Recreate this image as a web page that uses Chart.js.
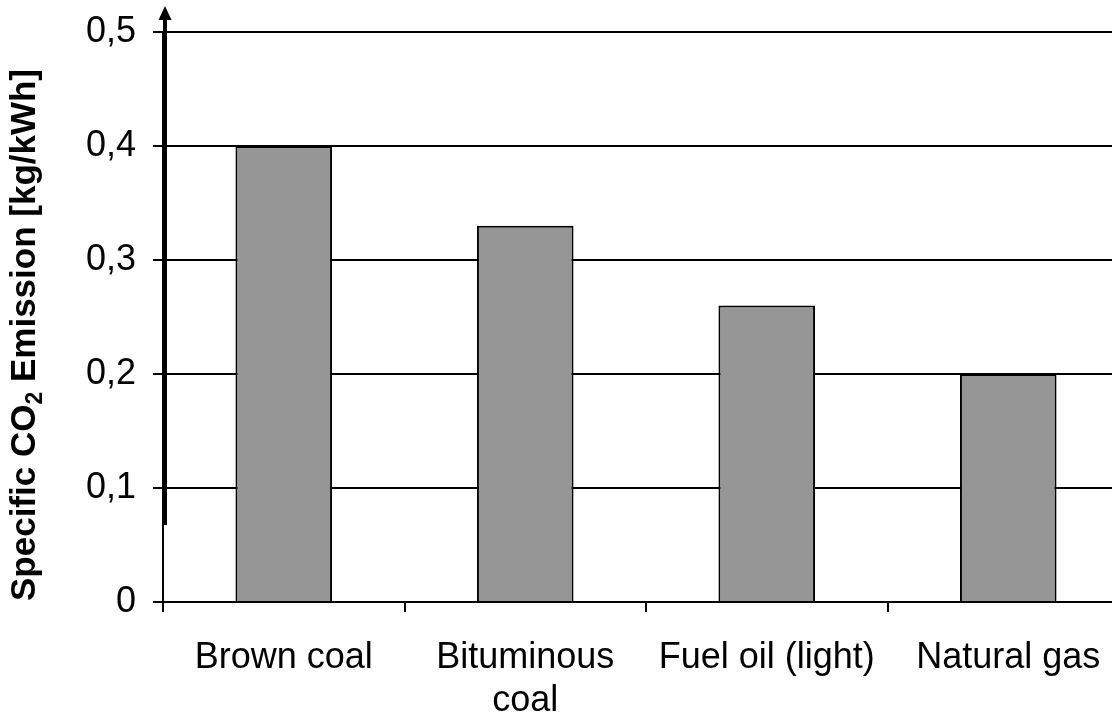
<!DOCTYPE html>
<html>
<head>
<meta charset="utf-8">
<title>Specific CO2 Emission</title>
<script src="https://cdn.jsdelivr.net/npm/chart.js@4/dist/chart.umd.min.js"></script>
<style>
  html, body { margin: 0; padding: 0; background: #ffffff; overflow: hidden; }
  #wrap { width: 1112px; height: 724px; overflow: hidden; position: relative; }
  canvas { display: block; }
</style>
</head>
<body>
<div id="wrap"><canvas id="chart" width="1130" height="724" style="width:1130px;height:724px"></canvas></div>
<script>
// Fuel types and their specific CO2 emissions in kg/kWh
const categories = ['Brown coal', ['Bituminous', 'coal'], 'Fuel oil (light)', 'Natural gas'];
const emissions = [0.40, 0.33, 0.26, 0.20];
const yTicks = [0, 0.1, 0.2, 0.3, 0.4, 0.5];

const FONT = '"Liberation Sans", Arial, Helvetica, sans-serif';

// Vertical axis title with a subscript 2, plus the arrow on the value axis
const decorations = {
  id: 'decorations',
  afterDraw(chart) {
    const ctx = chart.ctx;
    const area = chart.chartArea;

    // arrow along the value axis
    const ax = area.left + 2;
    ctx.save();
    ctx.strokeStyle = '#000';
    ctx.fillStyle = '#000';
    ctx.lineWidth = 4;
    ctx.beginPath();
    ctx.moveTo(ax, 525);
    ctx.lineTo(ax, 18);
    ctx.stroke();
    ctx.beginPath();
    ctx.moveTo(ax, 6);
    ctx.lineTo(ax - 6.5, 20);
    ctx.lineTo(ax + 6.5, 20);
    ctx.closePath();
    ctx.fill();
    ctx.restore();

    // rotated title
    const size = 35;
    const subSize = 23;
    const parts = [
      { t: 'Specific CO', f: 'bold ' + size + 'px ' + FONT, dy: 0 },
      { t: '2', f: 'bold ' + subSize + 'px ' + FONT, dy: 7 },
      { t: ' Emission [kg/kWh]', f: 'bold ' + size + 'px ' + FONT, dy: 0 }
    ];
    let total = 0;
    parts.forEach(p => { ctx.font = p.f; p.w = ctx.measureText(p.t).width; total += p.w; });
    ctx.save();
    ctx.translate(35, 335);
    ctx.rotate(-Math.PI / 2);
    ctx.fillStyle = '#000';
    ctx.textBaseline = 'alphabetic';
    let x = -total / 2;
    parts.forEach(p => {
      ctx.font = p.f;
      ctx.fillText(p.t, x, p.dy);
      x += p.w;
    });
    ctx.restore();
  }
};

new Chart(document.getElementById('chart'), {
  type: 'bar',
  data: {
    labels: categories,
    datasets: [{
      data: emissions,
      backgroundColor: '#969696',
      borderColor: '#000000',
      borderWidth: 2,
      borderSkipped: 'start',
      categoryPercentage: 1.0,
      barPercentage: 0.4
    }]
  },
  options: {
    responsive: false,
    animation: false,
    events: [],
    layout: { padding: { top: 32, right: 1, left: 0, bottom: 0 } },
    plugins: {
      legend: { display: false },
      tooltip: { enabled: false },
      title: { display: false }
    },
    scales: {
      x: {
        offset: true,
        grid: {
          offset: true,
          drawOnChartArea: false,
          drawTicks: true,
          tickLength: 10,
          color: '#000',
          lineWidth: 2
        },
        border: { display: true, color: '#000', width: 2 },
        ticks: {
          color: '#000',
          font: { family: FONT, size: 36, lineHeight: 1.2 },
          padding: 24,
          maxRotation: 0,
          autoSkip: false
        },
        afterFit(scale) {
          scale.height = 122;
          scale.paddingLeft = 0;
          scale.paddingRight = 0;
        }
      },
      y: {
        min: 0,
        max: 0.5,
        afterBuildTicks(scale) { scale.ticks = yTicks.map(v => ({ value: v })); },
        grid: {
          color: '#000',
          lineWidth: 2,
          drawTicks: true,
          tickLength: 10
        },
        border: { display: true, color: '#000', width: 2 },
        ticks: {
          color: '#000',
          font: { family: FONT, size: 36 },
          padding: 17,
          callback: (v) => v === 0 ? '0' : Number(v).toFixed(1).replace('.', ',')
        },
        afterFit(scale) {
          scale.width = 163;
          scale.paddingTop = 0;
          scale.paddingBottom = 0;
        }
      }
    }
  },
  plugins: [decorations]
});
</script>
</body>
</html>
